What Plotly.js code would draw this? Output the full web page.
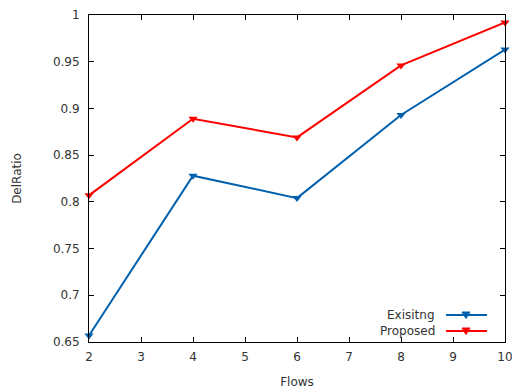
<!DOCTYPE html>
<html><head><meta charset="utf-8">
<script src="https://cdn.plot.ly/plotly-3.0.1.min.js"></script>
<style>html,body{margin:0;padding:0;background:#fff}#c{width:512px;height:392px}</style>
</head><body><div id="c"></div>
<script>
const flows = [2, 4, 6, 8, 10];
const existing = [0.657, 0.828, 0.804, 0.893, 0.963];
const proposed = [0.807, 0.889, 0.869, 0.946, 0.992];
const seriesNames = ["Exisitng", "Proposed"];
const colors = ["#0060ad", "#ff0000"];
const xTicks = [2, 3, 4, 5, 6, 7, 8, 9, 10];
const yTicks = [0.65, 0.7, 0.75, 0.8, 0.85, 0.9, 0.95, 1];
const yTickText = ['0.65','0.7','0.75','0.8','0.85','0.9','0.95','1'];

const L = 89, R = 505, T = 15, B = 342;
const px = v => (v - L) / (R - L);
const py = v => (B - v) / (B - T);

const traces = [existing, proposed].map((ys, i) => ({
  x: flows, y: ys, type: 'scatter', mode: 'lines+markers', name: seriesNames[i],
  line: {color: colors[i], width: 2},
  marker: {symbol: 'triangle-down', size: 8, color: colors[i]},
  showlegend: false, cliponaxis: false
}));

const shapes = [], annotations = [];
[315, 331].forEach((yy, i) => {
  shapes.push({type: 'line', xref: 'paper', yref: 'paper', x0: px(446), x1: px(487), y0: py(yy), y1: py(yy),
    line: {color: colors[i], width: 2}});
  const cx = 466, cy = yy;
  shapes.push({type: 'path', xref: 'paper', yref: 'paper',
    path: `M ${px(cx-4)} ${py(cy-3)} L ${px(cx+4)} ${py(cy-3)} L ${px(cx)} ${py(cy+3.5)} Z`,
    fillcolor: colors[i], line: {color: colors[i], width: 1}});
  annotations.push({xref: 'paper', yref: 'paper', x: px(437), y: py(yy), xanchor: 'right', yanchor: 'middle',
    text: seriesNames[i], showarrow: false, font: {family: 'DejaVu Sans', size: 12, color: '#333'}});
});

const font = {family: 'DejaVu Sans', size: 12, color: '#333'};
const axisCommon = {
  showgrid: false, zeroline: false, showline: true, linecolor: '#000', linewidth: 1,
  mirror: 'allticks', ticks: 'inside', ticklen: 5, tickcolor: '#000', tickwidth: 1,
  tickfont: font, tickmode: 'array', ticklabeloverflow: 'allow'
};

const layout = {
  width: 512, height: 392, margin: {l: L, r: 512 - R, t: T, b: 392 - B},
  paper_bgcolor: '#fff', plot_bgcolor: '#fff',
  xaxis: Object.assign({}, axisCommon, {range: [2, 10], tickvals: xTicks, ticktext: xTicks.map(String),
    ticklabelstandoff: 4,
    title: {text: 'Flows', font: font, standoff: 14}}),
  yaxis: Object.assign({}, axisCommon, {range: [0.65, 1], tickvals: yTicks, ticktext: yTickText,
    ticklabelstandoff: 6,
    title: {text: 'DelRatio', font: font, standoff: 28}}),
  shapes: shapes, annotations: annotations, showlegend: false
};

Plotly.newPlot('c', traces, layout, {displayModeBar: false, staticPlot: true});
</script></body></html>
